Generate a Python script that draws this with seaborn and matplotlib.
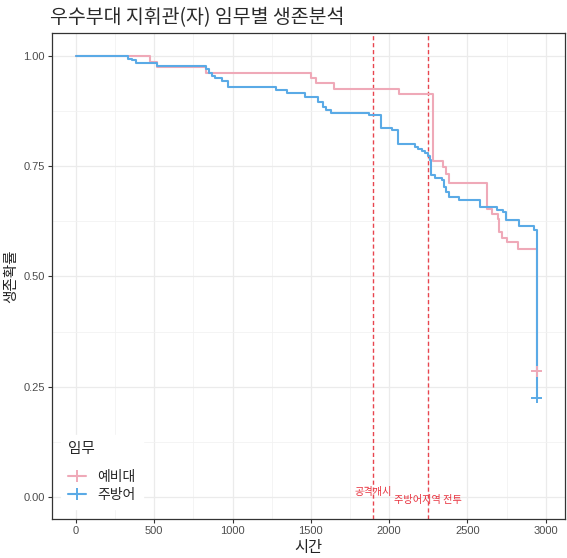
import matplotlib
matplotlib.use("Agg")
import matplotlib.pyplot as plt
from matplotlib.lines import Line2D
import numpy as np
import pandas as pd
import seaborn as sns

# Kaplan-Meier step estimates by assignment
reserve_time = [0, 476, 515, 833, 1503, 1535, 1648, 2060, 2279, 2343, 2364, 2381,
                2625, 2660, 2694, 2704, 2721, 2751, 2821, 2942]
reserve_surv = [1.0, 0.987, 0.976, 0.962, 0.951, 0.938, 0.926, 0.914, 0.762, 0.748,
                0.733, 0.712, 0.654, 0.642, 0.630, 0.601, 0.588, 0.578, 0.562, 0.285]

main_time = [0, 334, 355, 383, 515, 833, 848, 871, 886, 935, 971, 1276, 1348, 1463,
             1548, 1580, 1594, 1631, 1869, 1950, 2018, 2056, 2162, 2185, 2208, 2230,
             2248, 2260, 2268, 2292, 2338, 2353, 2364, 2381, 2449, 2581, 2690, 2730,
             2748, 2832, 2922, 2942]
main_surv = [1.0, 0.994, 0.990, 0.985, 0.978, 0.970, 0.961, 0.955, 0.949, 0.943,
             0.930, 0.923, 0.915, 0.908, 0.896, 0.885, 0.877, 0.871, 0.865, 0.837,
             0.832, 0.800, 0.794, 0.788, 0.784, 0.779, 0.773, 0.765, 0.730, 0.724,
             0.718, 0.703, 0.692, 0.680, 0.673, 0.657, 0.651, 0.645, 0.628, 0.614,
             0.606, 0.225]

groups = ["예비대", "주방어"]
palette = {"예비대": "#EFA9B8", "주방어": "#5AAAE6"}

# censored observations at the end of follow-up
censor_time = [2942, 2942]
censor_surv = [0.285, 0.225]

events = [(1900, "공격개시", 0.012), (2250, "주방어지역 전투", -0.006)]

x_ticks = [0, 500, 1000, 1500, 2000, 2500, 3000]
y_ticks = [0.00, 0.25, 0.50, 0.75, 1.00]
y_tick_labels = ["0.00", "0.25", "0.50", "0.75", "1.00"]

title = "우수부대 지휘관(자) 임무별 생존분석"
x_label = "시간"
y_label = "생존확률"
legend_title = "임무"

df = pd.concat([
    pd.DataFrame({"time": reserve_time, "surv": reserve_surv, "group": groups[0]}),
    pd.DataFrame({"time": main_time, "surv": main_surv, "group": groups[1]}),
], ignore_index=True)
cens = pd.DataFrame({"time": censor_time, "surv": censor_surv, "group": groups})

sns.set_theme(style="whitegrid")
plt.rcParams["font.family"] = ["Noto Sans CJK KR", "DejaVu Sans"]

fig = plt.figure(figsize=(5.67, 5.58), dpi=100)
ax = fig.add_axes([52 / 567, 1 - 519 / 558, 513 / 567, 486 / 558])
ax.set_facecolor("white")

sns.lineplot(data=df, x="time", y="surv", hue="group", hue_order=groups,
             palette=palette, drawstyle="steps-post", estimator=None,
             linewidth=1.5, legend=False, ax=ax, zorder=3)
sns.scatterplot(data=cens, x="time", y="surv", hue="group", hue_order=groups,
                palette=palette, marker="+", s=60, linewidth=1.4,
                legend=False, ax=ax, zorder=4)

for xv, label, yv in events:
    ax.axvline(xv, color="#E8454F", linewidth=1.0, linestyle=(0, (3, 2)), zorder=2)
    ax.text(xv, yv, label, color="#E8333F", fontsize=7.3, ha="center",
            va="center", zorder=5)

ax.set_xticks(x_ticks)
ax.set_yticks(y_ticks)
ax.set_yticklabels(y_tick_labels)
ax.set_xticks(np.arange(-250, 3250, 500), minor=True)
ax.set_yticks([0.125, 0.375, 0.625, 0.875], minor=True)
ax.set_xlim(-153, 3123)
ax.set_ylim(-0.05, 1.052)
ax.grid(which="major", color="#EBEBEB", linewidth=0.9)
ax.grid(which="minor", color="#F2F2F2", linewidth=0.6)
ax.set_axisbelow(True)
for sp in ax.spines.values():
    sp.set_color("#333333")
    sp.set_linewidth(0.9)
ax.tick_params(which="major", length=3, width=0.8, color="#333333",
               labelsize=8, labelcolor="#4D4D4D", pad=2,
               bottom=True, left=True)
ax.tick_params(which="minor", length=0)
for lab in ax.get_xticklabels() + ax.get_yticklabels():
    lab.set_family(["Liberation Sans", "DejaVu Sans"])

ax.set_xlabel(x_label, fontsize=11, color="#222222", labelpad=2)
ax.set_ylabel(y_label, fontsize=10.5, color="#222222", labelpad=4)
fig.text(50 / 567, 1 - 18 / 558, title, fontsize=14, color="#2A2A2A",
         ha="left", va="center")

handles = [Line2D([0], [0], color=palette[g], linewidth=1.5, marker="+",
                  markersize=8, markeredgewidth=1.4) for g in groups]
leg = ax.legend(handles, groups, title=legend_title, loc="lower left",
                bbox_to_anchor=(0.018, 0.02), borderaxespad=0, frameon=True,
                fontsize=10, title_fontsize=10.5, handlelength=1.3,
                handletextpad=0.8, labelspacing=0.3, borderpad=0.5,
                alignment="left")
leg._legend_box.sep = 10
leg.get_frame().set_facecolor("white")
leg.get_frame().set_edgecolor("white")
leg.get_frame().set_alpha(1)
leg.set_zorder(6)

fig.savefig("out.png", dpi=100)
